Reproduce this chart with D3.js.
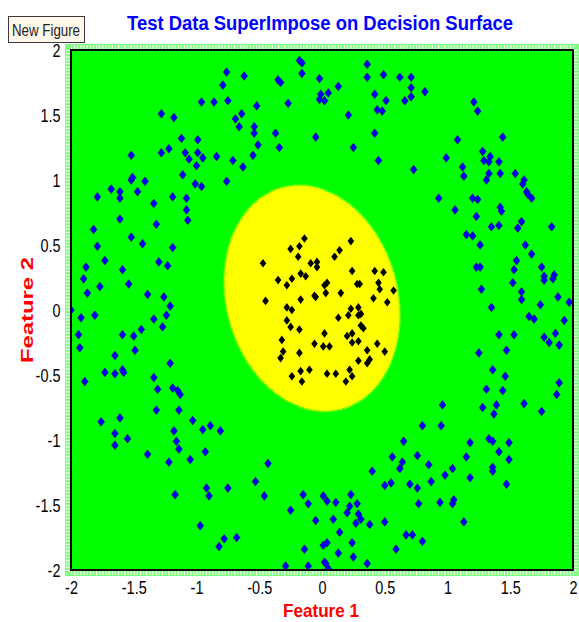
<!DOCTYPE html>
<html>
<head>
<meta charset="utf-8">
<script src="https://cdn.jsdelivr.net/npm/d3@7"></script>
<style>
  body { margin:0; background:#fff; }
  text { font-family:"Liberation Sans", Arial, sans-serif; }
</style>
</head>
<body>
<div id="chart"></div>
<script>
// test points of the outer class (blue) and inner class (black)
const outerClass = [
  [-0.76,1.83],[-0.79,1.73],[-0.96,1.60],[-0.86,1.60],[-0.75,1.61],[-1.28,1.51],[-1.18,1.48],[-0.69,1.47],[-1.12,1.32],[-0.99,1.31],
  [-1.52,1.19],[-1.28,1.21],[-1.22,1.24],[-1.09,1.21],[-0.99,1.21],[-1.06,1.16],[-0.95,1.17],[-0.84,1.18],[-0.71,1.15],[-1.00,1.11],
  [-1.11,1.04],[-1.52,1.00],[-1.51,1.02],[-1.41,0.99],[-0.76,0.99],[-1.01,0.97],[-0.96,0.95],[-1.68,0.93],[-1.61,0.91],[-1.47,0.91],
  [-1.79,0.87],[-1.61,0.86],[-1.19,0.87],[-1.08,0.86],[-1.34,0.82],[-1.08,0.77],[-1.61,0.70],[-1.07,0.69],[-1.32,0.66],
  [-0.18,1.92],[-0.16,1.90],[0.36,1.89],[-0.62,1.80],[-0.16,1.82],[-0.35,1.77],[-0.33,1.75],[-0.02,1.78],[0.36,1.79],[0.49,1.81],[0.62,1.79],
  [0.13,1.72],[-0.01,1.66],[0.05,1.67],[-0.02,1.62],[0.02,1.61],[0.42,1.66],[0.51,1.61],[0.44,1.54],[0.48,1.53],[-0.52,1.57],[-0.27,1.59],
  [-0.64,1.51],[0.21,1.50],[-0.66,1.41],[-0.54,1.41],[-0.54,1.36],[-0.37,1.36],[-0.05,1.33],[0.42,1.36],[-0.51,1.27],[-0.34,1.25],[0.25,1.25],
  [-0.55,1.19],[-0.63,1.10],[0.45,1.15],
  [0.71,1.79],[0.71,1.71],[0.82,1.68],[0.66,1.61],[0.71,1.64],[1.21,1.60],[1.24,1.53],[1.44,1.33],[1.08,1.31],[0.99,1.17],
  [1.28,1.22],[1.29,1.15],[1.33,1.14],[1.34,1.18],[1.41,1.14],[0.73,1.08],[1.12,1.10],[1.13,1.03],[1.33,1.05],[1.42,1.05],[1.54,1.05],
  [1.31,1.00],[1.61,1.00],[1.60,0.97],[1.63,0.91],[1.64,0.89],[1.67,0.86],[0.93,0.86],[1.20,0.86],[1.24,0.85],[1.06,0.77],[1.42,0.79],
  [1.43,0.76],[1.23,0.72],[1.59,0.68],
  [1.15,0.58],[1.20,0.57],[1.35,0.64],[1.41,0.65],[1.56,0.63],[1.83,0.64],[1.26,0.50],[1.62,0.50],[1.67,0.43],[1.55,0.38],
  [1.23,0.33],[1.26,0.33],[1.53,0.31],[1.75,0.33],[1.77,0.26],[1.77,0.23],[1.85,0.27],[1.84,0.24],[1.52,0.21],[1.27,0.16],
  [1.59,0.14],[1.59,0.08],[1.88,0.10],[1.97,0.06],[1.74,0.04],[1.35,0.02],[1.65,-0.05],[1.69,-0.07],[1.93,-0.08],[1.41,-0.19],
  [1.53,-0.19],[1.86,-0.18],[1.77,-0.21],[1.81,-0.25],[1.89,-0.27],[1.25,-0.33],[1.47,-0.31],[1.36,-0.46],[1.46,-0.51],[1.89,-0.56],
  [1.31,-0.61],[1.44,-0.62],[1.87,-0.65],
  [1.61,-0.72],[0.96,-0.73],[1.28,-0.75],[1.39,-0.73],[1.37,-0.80],[1.75,-0.78],[0.80,-0.89],[0.95,-0.89],[0.65,-1.01],[1.18,-1.02],
  [1.33,-0.99],[1.36,-1.01],[1.49,-1.02],[0.76,-1.12],[1.15,-1.13],[1.41,-1.09],[1.49,-1.15],[0.64,-1.17],[0.62,-1.22],[0.85,-1.19],
  [1.04,-1.22],[0.98,-1.27],[1.36,-1.21],[1.36,-1.24],[1.18,-1.29],[0.87,-1.32],[0.70,-1.34],[0.76,-1.37],[1.47,-1.34],[0.77,-1.49],
  [0.94,-1.48],[1.04,-1.49],[1.05,-1.46],[1.13,-1.63],[0.67,-1.73],[0.72,-1.73],[0.80,-1.78],
  [0.56,-1.13],[0.40,-1.24],[0.50,-1.35],[0.55,-1.33],[-0.43,-1.18],[-0.53,-1.32],[-0.46,-1.43],[-0.15,-1.42],[0.01,-1.43],[0.04,-1.47],
  [-0.11,-1.49],[0.11,-1.48],[0.23,-1.42],[0.28,-1.49],[0.22,-1.51],[0.20,-1.56],[0.29,-1.57],[0.31,-1.61],[0.27,-1.64],[0.38,-1.65],
  [0.50,-1.63],[-0.25,-1.54],[-0.05,-1.62],[0.09,-1.61],[0.14,-1.71],[-0.68,-1.75],[-0.14,-1.84],[0.01,-1.81],[0.04,-1.79],[0.24,-1.79],
  [0.13,-1.87],[0.25,-1.90],[0.59,-1.84],[-0.29,-1.97],[-0.11,-1.97],[0.02,-1.94],[0.03,-1.95],[0.05,-1.99],[0.36,-1.95],
  [-1.76,-0.86],[-1.61,-0.83],[-1.65,-0.95],[-1.55,-0.99],[-1.65,-1.04],[-1.32,-0.77],[-1.14,-0.77],[-1.03,-0.85],[-1.18,-0.93],[-0.95,-0.92],
  [-0.89,-0.89],[-0.81,-0.93],[-1.16,-1.01],[-1.14,-1.07],[-0.93,-1.09],[-1.39,-1.11],[-1.22,-1.17],[-1.05,-1.15],[-0.92,-1.37],[-0.90,-1.43],
  [-0.75,-1.37],[-1.17,-1.42],[-0.97,-1.66],[-0.78,-1.76],[-0.82,-1.82],
  [-1.82,0.62],[-1.52,0.56],[-1.43,0.51],[-1.79,0.49],[-1.19,0.48],[-1.73,0.38],[-1.30,0.37],[-1.23,0.34],[-1.88,0.33],[-1.59,0.31],
  [-1.90,0.24],[-1.77,0.18],[-1.54,0.20],[-1.87,0.13],[-1.39,0.12],[-1.26,0.10],[-1.21,0.03],[-2.00,0.00],[-1.92,-0.06],[-1.81,-0.04],
  [-1.34,-0.07],[-1.24,-0.04],[-1.27,-0.13],[-1.44,-0.15],[-1.94,-0.19],[-1.59,-0.19],[-1.50,-0.20],[-1.93,-0.29],[-1.49,-0.31],[-1.65,-0.35],
  [-1.21,-0.41],[-1.73,-0.48],[-1.65,-0.49],[-1.59,-0.46],[-1.58,-0.48],[-1.34,-0.52],[-1.89,-0.55],[-1.31,-0.61],[-1.19,-0.60],[-1.15,-0.62],
  [-1.13,-0.65]
]

const innerClass = [
  [-0.14,0.55],[-0.25,0.47],[-0.18,0.49],[0.23,0.53],[0.14,0.46],[-0.19,0.41],[0.10,0.41],[-0.47,0.36],[-0.09,0.36],[-0.04,0.37],
  [-0.04,0.33],[0.24,0.30],[0.42,0.30],[0.49,0.29],[-0.35,0.23],[-0.24,0.24],[-0.17,0.28],[-0.13,0.26],[-0.28,0.19],[0.02,0.19],
  [0.04,0.21],[0.28,0.20],[0.30,0.20],[0.45,0.21],[0.46,0.16],[0.57,0.15],[-0.45,0.07],[-0.17,0.08],[-0.06,0.11],[-0.05,0.10],
  [0.03,0.13],[0.15,0.13],[0.41,0.09],[0.52,0.06],[-0.28,0.02],[-0.24,0.00],[0.23,0.01],[0.29,0.02],[0.21,-0.04],[0.29,-0.04],
  [0.31,-0.03],[0.13,-0.06],[-0.28,-0.08],[-0.25,-0.13],[-0.18,-0.15],[0.31,-0.12],[0.33,-0.14],[0.02,-0.18],[0.20,-0.20],[0.24,-0.18],
  [-0.32,-0.23],[-0.06,-0.26],[0.01,-0.28],[0.06,-0.28],[0.24,-0.25],[0.29,-0.24],[0.44,-0.26],[-0.31,-0.32],[-0.33,-0.37],[-0.18,-0.33],
  [0.36,-0.31],[0.50,-0.32],[0.29,-0.39],[0.36,-0.41],[0.38,-0.38],[-0.10,-0.46],[-0.17,-0.47],[-0.24,-0.51],[-0.16,-0.55],[0.04,-0.49],
  [0.11,-0.49],[0.22,-0.46],[0.24,-0.51],[0.19,-0.55]
]

const tickValues = [-2, -1.5, -1, -0.5, 0, 0.5, 1, 1.5, 2]
const tickLabels = ["-2", "-1.5", "-1", "-0.5", "0", "0.5", "1", "1.5", "2"]

// yellow region of the decision surface (centre, half axes in data units, tilt in degrees)
const regionCentre = [-0.08, 0.09]
const regionHalfAxes = [0.68, 0.88]
const regionTilt = -15

let width = 579, height = 622,
    margin = { top:50, left:71, right:6, bottom:52 }

let x = d3.scaleLinear().domain([-2, 2]).range([margin.left, width - margin.right])
let y = d3.scaleLinear().domain([-2, 2]).range([height - margin.bottom, margin.top])

let svg = d3.select("#chart").append("svg")
  .attr("width", width).attr("height", height)

// minor tick band around the frame
svg.append("rect")
  .attr("x", x(-2) - 6).attr("y", y(2) - 6)
  .attr("width", x(2) - x(-2) + 12).attr("height", y(-2) - y(2) + 12)
  .attr("fill", "#7dff7d")

let minor = d3.range(-2, 2.0001, 0.025)
let bandAxes = [
  [d3.axisTop(x), `translate(0,${y(2)})`],
  [d3.axisBottom(x), `translate(0,${y(-2)})`],
  [d3.axisLeft(y), `translate(${x(-2)},0)`],
  [d3.axisRight(y), `translate(${x(2)},0)`]
]
bandAxes.forEach(([ax, tr]) => {
  let g = svg.append("g").attr("transform", tr)
    .call(ax.tickValues(minor).tickSize(5).tickFormat(""))
  g.select(".domain").remove()
  g.selectAll("line").attr("stroke", "#fff").attr("stroke-width", 1.2)
})

let defs = svg.append("defs")
defs.append("clipPath").attr("id", "plotClip")
  .append("rect")
  .attr("x", x(-2)).attr("y", y(2))
  .attr("width", x(2) - x(-2)).attr("height", y(-2) - y(2))

let plot = svg.append("g").attr("clip-path", "url(#plotClip)")

plot.append("rect")
  .attr("x", x(-2)).attr("y", y(2))
  .attr("width", x(2) - x(-2)).attr("height", y(-2) - y(2))
  .attr("fill", "#00ff00")

let rx = x(regionCentre[0] + regionHalfAxes[0]) - x(regionCentre[0])
let ry = y(regionCentre[1]) - y(regionCentre[1] + regionHalfAxes[1])
plot.append("ellipse")
  .attr("transform", `translate(${x(regionCentre[0])},${y(regionCentre[1])}) rotate(${regionTilt})`)
  .attr("rx", rx).attr("ry", ry)
  .attr("fill", "#ffff00")
  .attr("stroke", "#c8ff00")
  .attr("stroke-width", 2.5)
  .attr("stroke-dasharray", "1,1")

let diamond = "M0,-4.3L3.3,0L0,4.3L-3.3,0Z"

plot.selectAll(".outer")
  .data(outerClass)
  .enter()
  .append("path")
  .attr("class", "outer")
  .attr("d", diamond)
  .attr("transform", d => `translate(${x(d[0])},${y(d[1])})`)
  .attr("fill", "#0000ff")
  .attr("stroke", "#00008a")
  .attr("stroke-width", 0.7)

plot.selectAll(".inner")
  .data(innerClass)
  .enter()
  .append("path")
  .attr("class", "inner")
  .attr("d", diamond)
  .attr("transform", d => `translate(${x(d[0])},${y(d[1])})`)
  .attr("fill", "#000")

// frame
svg.append("rect")
  .attr("x", x(-2)).attr("y", y(2))
  .attr("width", x(2) - x(-2)).attr("height", y(-2) - y(2))
  .attr("fill", "none")
  .attr("stroke", "#000")
  .attr("stroke-width", 2)

// tick labels
let xAxis = d3.axisBottom(x).tickValues(tickValues).tickSize(0).tickPadding(5)
  .tickFormat((d, i) => tickLabels[i])
let yAxis = d3.axisLeft(y).tickValues(tickValues).tickSize(0).tickPadding(6)
  .tickFormat((d, i) => tickLabels[i])

let xGroup = svg.append("g").attr("transform", `translate(0,${y(-2) + 6})`).call(xAxis)
let yGroup = svg.append("g").attr("transform", `translate(${x(-2) - 6},0)`).call(yAxis)
xGroup.select(".domain").remove()
yGroup.select(".domain").remove()
xGroup.selectAll("text")
  .attr("font-family", "Liberation Sans, Arial, sans-serif")
  .attr("font-size", 19).attr("fill", "#000")
  .attr("transform", "scale(0.76,1)")
yGroup.selectAll("text")
  .attr("font-family", "Liberation Sans, Arial, sans-serif")
  .attr("font-size", 19).attr("fill", "#000")
  .attr("transform", "scale(0.76,1)")

// title
svg.append("text")
  .attr("x", 127).attr("y", 30)
  .attr("textLength", 386).attr("lengthAdjust", "spacingAndGlyphs")
  .attr("font-size", 20).attr("font-weight", "bold")
  .attr("fill", "#0000ff")
  .text("Test Data SuperImpose on Decision Surface")

// axis titles
svg.append("text")
  .attr("x", (x(-2) + x(2)) / 2 - 1).attr("y", 617)
  .attr("text-anchor", "middle")
  .attr("textLength", 76).attr("lengthAdjust", "spacingAndGlyphs")
  .attr("font-size", 18).attr("font-weight", "bold")
  .attr("fill", "#ff0000")
  .text("Feature 1")

svg.append("text")
  .attr("transform", `translate(33,${y(0)}) scale(0.72,1) rotate(-90)`)
  .attr("text-anchor", "middle")
  .attr("textLength", 106).attr("lengthAdjust", "spacingAndGlyphs")
  .attr("font-size", 22).attr("font-weight", "bold")
  .attr("fill", "#ff0000")
  .text("Feature 2")

// "New Figure" tag
let tag = svg.append("g")
tag.append("rect")
  .attr("x", 8.5).attr("y", 16.5).attr("width", 76).attr("height", 26)
  .attr("fill", "#fff8ea").attr("stroke", "#3a3a3a").attr("stroke-width", 1)
tag.append("text")
  .attr("x", 12).attr("y", 36)
  .attr("textLength", 68).attr("lengthAdjust", "spacingAndGlyphs")
  .attr("font-size", 16).attr("fill", "#222")
  .text("New Figure")
</script>
</body>
</html>
